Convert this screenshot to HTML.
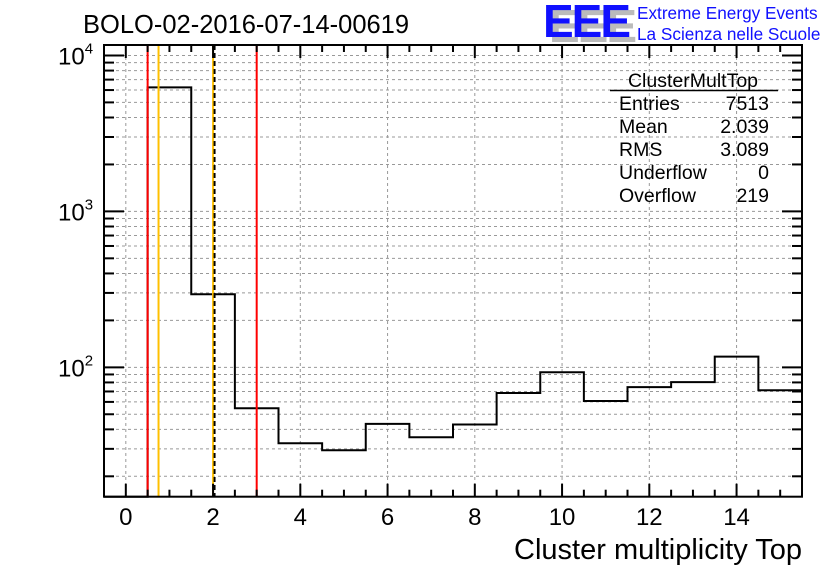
<!DOCTYPE html>
<html><head><meta charset="utf-8"><style>
html,body{margin:0;padding:0;background:#fff}
svg{display:block;font-family:"Liberation Sans",sans-serif}
</style></head><body>
<svg id="c" width="836" height="572" viewBox="0 0 836 572" xmlns="http://www.w3.org/2000/svg">
<rect width="836" height="572" fill="#fff"/>
<g id="grid"></g>
<g id="hist"></g>
<g id="markers"></g>
<g id="axes"></g>
<text x="83" y="33" font-size="25.5">BOLO-02-2016-07-14-00619</text>
<g>
<text x="549" y="42" font-size="46" font-weight="bold" fill="#bbb" letter-spacing="-2">EEE</text>
<text x="543" y="37" font-size="46" font-weight="bold" fill="#1010ff" letter-spacing="-2">EEE</text>
<text x="637" y="19" font-size="17.2" fill="#1010ff">Extreme Energy Events</text>
<text x="637" y="40" font-size="17.2" fill="#1010ff">La Scienza nelle Scuole</text>
</g>
<g font-size="19.5">
<text x="693" y="87" text-anchor="middle">ClusterMultTop</text>
<line x1="610" y1="90.5" x2="778" y2="90.5" stroke="#000" stroke-width="1.5"/>
<text x="619" y="110">Entries</text><text x="769" y="110" text-anchor="end">7513</text>
<text x="619" y="133">Mean</text><text x="769" y="133" text-anchor="end">2.039</text>
<text x="619" y="156">RMS</text><text x="769" y="156" text-anchor="end">3.089</text>
<text x="619" y="179">Underflow</text><text x="769" y="179" text-anchor="end">0</text>
<text x="619" y="202">Overflow</text><text x="769" y="202" text-anchor="end">219</text>
</g>
<text x="802" y="559" font-size="29" text-anchor="end">Cluster multiplicity Top</text>
</svg>
<script>
const binLows=[-0.5,0.5,1.5,2.5,3.5,4.5,5.5,6.5,7.5,8.5,9.5,10.5,11.5,12.5,13.5,14.5];
const counts=[0,6240,294,54.6,32.6,29.4,43.4,35.6,43,68.4,93,60.8,74.6,80.4,117,71.3];
const xTicks=[0,2,4,6,8,10,12,14];
const yDecades=[2,3,4];
const redLines=[0.5,3];
const yellowLines=[0.75,2];
const dashedLines=[2];
const X0=104,X1=802,Y0=45,Y1=496.7;
const xmin=-0.5,xmax=15.5,ymin=Math.log10(14.8),ymax=Math.log10(11670);
const sx=v=>X0+(v-xmin)/(xmax-xmin)*(X1-X0);
const sy=v=>Y1-(Math.log10(v)-ymin)/(ymax-ymin)*(Y1-Y0);
const NS='http://www.w3.org/2000/svg';
function mk(p,t,a){const e=document.createElementNS(NS,t);for(const k in a)e.setAttribute(k,a[k]);p.appendChild(e);return e;}
const grid=document.getElementById('grid'),axes=document.getElementById('axes'),hist=document.getElementById('hist'),mk2=document.getElementById('markers');
xTicks.forEach(t=>{const g=mk(grid,'line',{x1:sx(t),x2:sx(t),y1:Y0,y2:Y1,stroke:'#999','stroke-dasharray':'3,3','stroke-width':1});
});
for(let d=1;d<=4;d++){for(let m=1;m<=9;m++){const v=m*Math.pow(10,d);const ly=Math.log10(v);if(ly<ymin||ly>ymax)continue;const y=sy(v);
const g=mk(grid,'line',{x1:X0,x2:X1,y1:y,y2:y,stroke:'#999','stroke-dasharray':'3,3','stroke-width':1});

const len=m===1?20:10;
const t1=mk(axes,'line',{x1:X0,x2:X0+len,y1:y,y2:y,stroke:'#000','stroke-width':2});

const t2=mk(axes,'line',{x1:X1,x2:X1-len,y1:y,y2:y,stroke:'#000','stroke-width':2});
}}
let d='M'+sx(binLows[0])+','+Y1;
binLows.forEach((lo,i)=>{const hi=lo+1;const y=counts[i]>0?sy(counts[i]):Y1;d+=' L'+sx(lo)+','+y+' L'+sx(hi)+','+y;});
d+=' L'+sx(xmax)+','+Y1;
const hp=mk(hist,'path',{d:d,fill:'none',stroke:'#000','stroke-width':2});

redLines.forEach(v=>{const l=mk(mk2,'line',{x1:sx(v),x2:sx(v),y1:Y0,y2:Y1,stroke:'#f00','stroke-width':2});
});
yellowLines.forEach(v=>{const l=mk(mk2,'line',{x1:sx(v),x2:sx(v),y1:Y0,y2:Y1,stroke:'#ffc000','stroke-width':2});
});
dashedLines.forEach(v=>{const l=mk(mk2,'line',{x1:sx(v)+1.5,x2:sx(v)+1.5,y1:Y0,y2:Y1,stroke:'#000','stroke-width':2,'stroke-dasharray':'5,3'});
});
const fr=mk(axes,'rect',{x:X0,y:Y0,width:X1-X0,height:Y1-Y0,fill:'none',stroke:'#000','stroke-width':2});

for(let v=0;v<=15;v+=0.5){const major=xTicks.includes(v);const len=major?13:7;const x=sx(v);
const a=mk(axes,'line',{x1:x,x2:x,y1:Y1,y2:Y1-len,stroke:'#000','stroke-width':2});

const b=mk(axes,'line',{x1:x,x2:x,y1:Y0,y2:Y0+len,stroke:'#000','stroke-width':2});
}
xTicks.forEach(t=>{const e=mk(axes,'text',{x:sx(t),y:525,'font-size':24,'text-anchor':'middle'});e.textContent=t;
});
yDecades.forEach(p=>{const y=sy(Math.pow(10,p));const e=mk(axes,'text',{x:58,y:y+9,'font-size':24});

e.textContent='10';const s=mk(e,'tspan',{dy:-11,'font-size':15});s.textContent=p;});
</script>
</body></html>
